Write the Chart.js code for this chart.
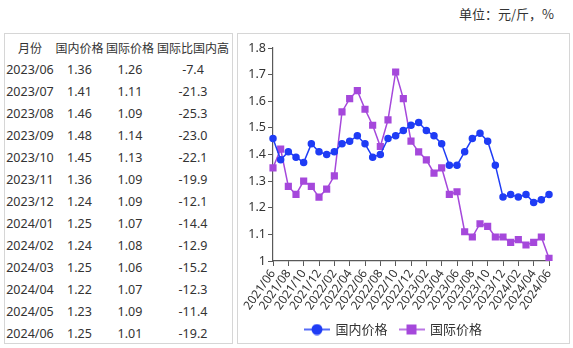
<!DOCTYPE html>
<html>
<head>
<meta charset="utf-8">
<script src="https://cdn.jsdelivr.net/npm/chart.js@4.4.1/dist/chart.umd.min.js"></script>
<style>
  html, body { margin: 0; padding: 0; background: #fff; width: 573px; height: 348px; overflow: hidden; }
  body { position: relative; font-family: 'Noto Sans', 'Noto Sans CJK SC', sans-serif; color: #333; }
  #unit { position: absolute; left: 459px; top: 4px; font-size: 13px; font-family: 'Noto Sans CJK SC', sans-serif; color: #333; white-space: nowrap; }
  #tbox { position: absolute; left: 4px; top: 33px; width: 227px; height: 309px; border: 1px solid #d6d6d6; }
  #cbox { position: absolute; left: 237px; top: 33px; width: 331px; height: 309px; border: 1px solid #d6d6d6; }
  .cell { position: absolute; transform: translate(-50%, -50%); white-space: nowrap; }
  .hd { font-size: 12px; font-family: 'Noto Sans CJK SC', sans-serif; }
  .dt { font-size: 12.5px; }
  #chart { position: absolute; left: 238px; top: 34px; }
</style>
</head>
<body>
<div id="unit">单位：元/斤，%</div>
<div id="tbox"></div>
<div id="cbox"></div>
<div id="table"></div>
<canvas id="chart" width="330" height="312"></canvas>
<script>
// ---- data ----
const months = ["2021/06","2021/07","2021/08","2021/09","2021/10","2021/11","2021/12",
  "2022/01","2022/02","2022/03","2022/04","2022/05","2022/06","2022/07","2022/08","2022/09","2022/10","2022/11","2022/12",
  "2023/01","2023/02","2023/03","2023/04","2023/05","2023/06","2023/07","2023/08","2023/09","2023/10","2023/11","2023/12",
  "2024/01","2024/02","2024/03","2024/04","2024/05","2024/06"];
const domesticPrice = [1.46,1.38,1.41,1.39,1.37,1.44,1.41,1.40,1.41,1.44,1.45,1.47,1.44,1.39,1.40,1.46,1.47,1.49,1.51,1.52,1.49,1.47,1.44,1.36,1.36,1.41,1.46,1.48,1.45,1.36,1.24,1.25,1.24,1.25,1.22,1.23,1.25];
const intlPrice = [1.35,1.42,1.28,1.25,1.30,1.28,1.24,1.27,1.32,1.56,1.61,1.64,1.57,1.51,1.43,1.53,1.71,1.61,1.45,1.41,1.38,1.33,1.35,1.25,1.26,1.11,1.09,1.14,1.13,1.09,1.09,1.07,1.08,1.06,1.07,1.09,1.01];
const yTicks = [1, 1.1, 1.2, 1.3, 1.4, 1.5, 1.6, 1.7, 1.8];
const seriesNames = ["国内价格", "国际价格"];

const tableHeader = ["月份", "国内价格", "国际价格", "国际比国内高"];
const tableMonths = ["2023/06","2023/07","2023/08","2023/09","2023/10","2023/11","2023/12","2024/01","2024/02","2024/03","2024/04","2024/05","2024/06"];
const tableDomestic = ["1.36","1.41","1.46","1.48","1.45","1.36","1.24","1.25","1.24","1.25","1.22","1.23","1.25"];
const tableIntl = ["1.26","1.11","1.09","1.14","1.13","1.09","1.09","1.07","1.08","1.06","1.07","1.09","1.01"];
const tableDiff = ["-7.4","-21.3","-25.3","-23.0","-22.1","-19.9","-12.1","-14.4","-12.9","-15.2","-12.3","-11.4","-19.2"];

// ---- table ----
const colX = [30, 79.5, 130, 193];
const tbl = document.getElementById('table');
function addCell(txt, x, y, cls) {
  const d = document.createElement('div');
  d.className = 'cell ' + cls;
  d.style.left = x + 'px';
  d.style.top = y + 'px';
  d.textContent = txt;
  tbl.appendChild(d);
}
tableHeader.forEach((h, i) => addCell(h, colX[i], 47, 'hd'));
tableMonths.forEach((m, r) => {
  const y = 68.5 + r * 22.08;
  addCell(m, colX[0], y, 'dt');
  addCell(tableDomestic[r], colX[1], y, 'dt');
  addCell(tableIntl[r], colX[2], y, 'dt');
  addCell(tableDiff[r], colX[3], y, 'dt');
});

// ---- chart ----
const BLUE = '#1f3cf5';
const PURPLE = '#a548db';
function legendIcon(color, shape) {
  const c = document.createElement('canvas');
  c.width = 26; c.height = 12;
  const g = c.getContext('2d');
  g.strokeStyle = color; g.lineWidth = 1.5;
  g.beginPath(); g.moveTo(0, 6); g.lineTo(26, 6); g.stroke();
  g.fillStyle = color;
  if (shape === 'circle') { g.beginPath(); g.arc(13, 6, 5.5, 0, Math.PI * 2); g.fill(); }
  else { g.fillRect(8, 1, 10, 10); }
  return c;
}
const icons = [legendIcon(BLUE, 'circle'), legendIcon(PURPLE, 'rect')];
const FONT = "'Noto Sans', 'Noto Sans CJK SC', sans-serif";

new Chart(document.getElementById('chart'), {
  type: 'line',
  data: {
    labels: months,
    datasets: [
      { label: seriesNames[0], data: domesticPrice, borderColor: BLUE, backgroundColor: BLUE,
        borderWidth: 1.5, pointStyle: 'circle', pointRadius: 3, pointHoverRadius: 3, tension: 0 },
      { label: seriesNames[1], data: intlPrice, borderColor: PURPLE, backgroundColor: PURPLE,
        borderWidth: 1.5, pointStyle: 'rect', pointRadius: 4, pointHoverRadius: 4, tension: 0 }
    ]
  },
  options: {
    responsive: false,
    animation: false,
    layout: { padding: { left: 0, right: 19, top: 14, bottom: 0 } },
    plugins: {
      tooltip: { enabled: false },
      legend: {
        position: 'bottom',
        labels: {
          usePointStyle: true,
          pointStyleWidth: 24,
          padding: 12,
          color: '#333',
          font: { size: 13, family: "'Noto Sans CJK SC', sans-serif" },
          generateLabels: (chart) => {
            const items = Chart.defaults.plugins.legend.labels.generateLabels(chart);
            items.forEach((it, i) => { it.pointStyle = icons[i]; });
            return items;
          }
        }
      }
    },
    scales: {
      x: {
        grid: { drawOnChartArea: false, drawTicks: true, tickLength: 5,
                tickColor: (ctx) => (ctx.index % 2 === 0 ? '#595959' : 'rgba(0,0,0,0)') },
        border: { color: '#595959', width: 1.2 },
        ticks: {
          autoSkip: false, minRotation: 55, maxRotation: 55, padding: 1,
          color: '#333', font: { size: 12, family: FONT },
          callback: function(v, i) { return i % 2 === 0 ? this.getLabelForValue(v) : ''; }
        },
        afterFit: (s) => { s.height = 50; }
      },
      y: {
        min: 1, max: 1.8,
        afterBuildTicks: (s) => { s.ticks = yTicks.map(v => ({ value: v })); },
        grid: { drawOnChartArea: false, drawTicks: true, tickLength: 5, tickColor: '#595959' },
        border: { color: '#595959', width: 1.2 },
        ticks: { color: '#333', padding: 2, font: { size: 12.5, family: FONT },
                 callback: (v) => String(Math.round(v * 10) / 10) },
        afterFit: (s) => { s.width = 35; }
      }
    }
  }
});
</script>
</body>
</html>
